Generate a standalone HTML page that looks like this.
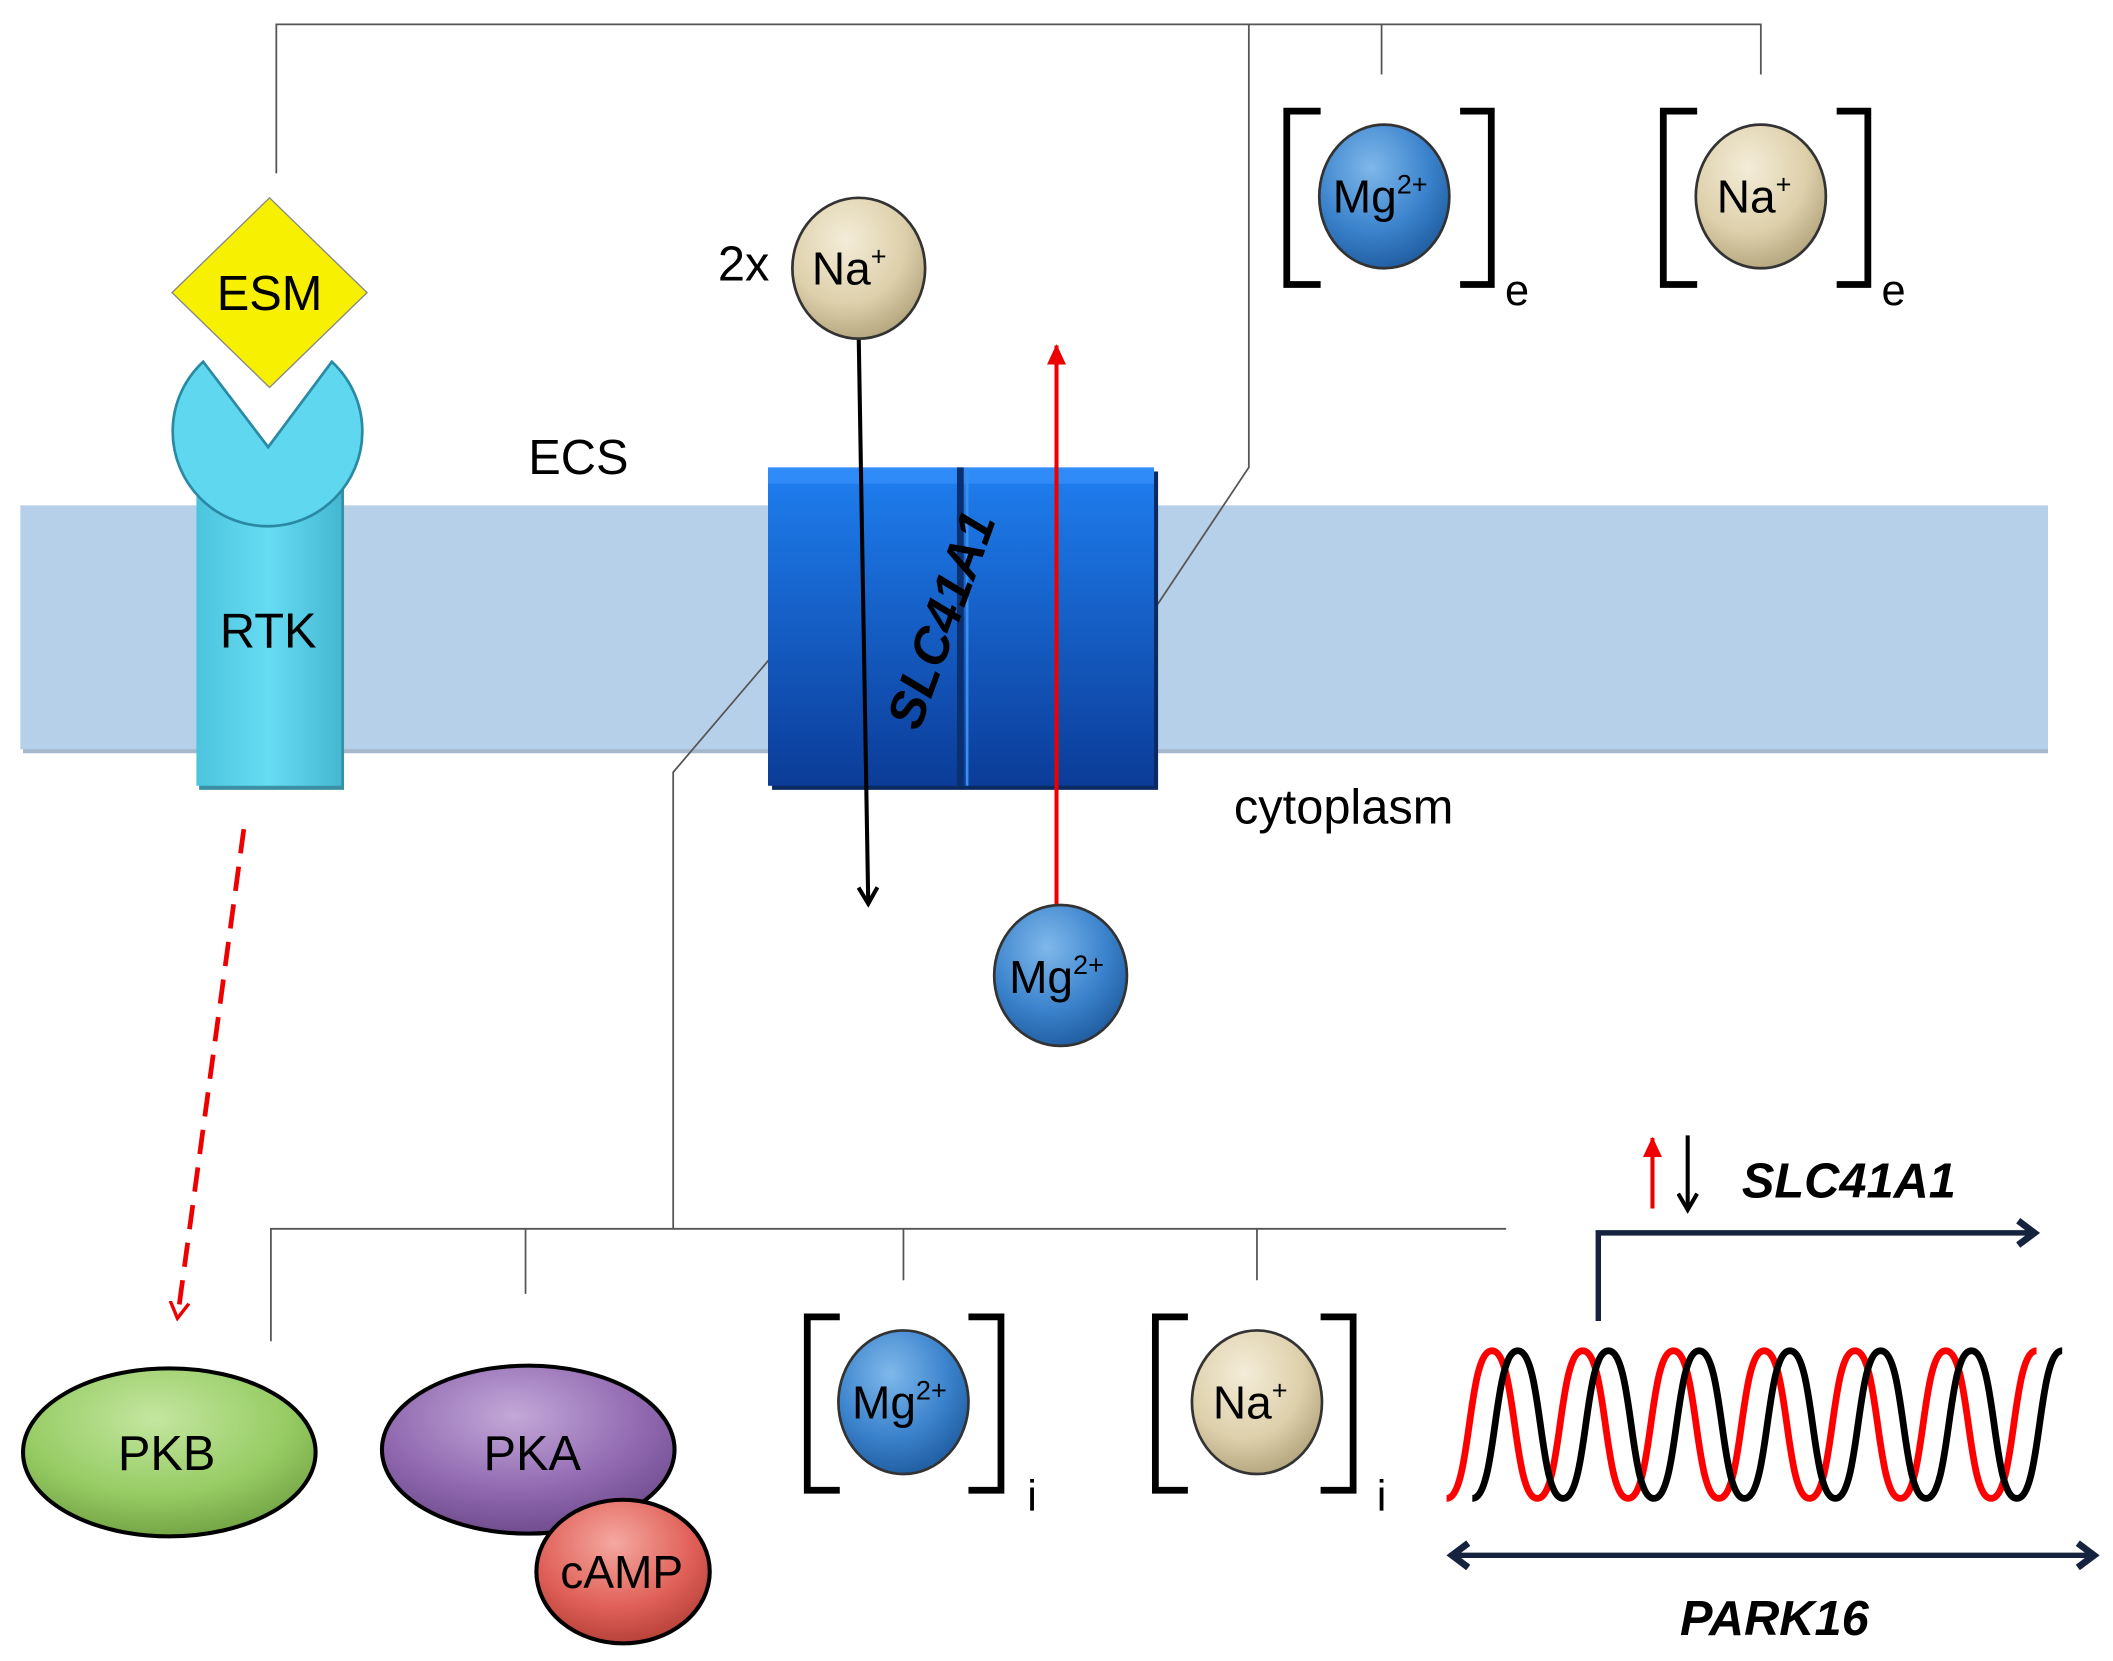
<!DOCTYPE html>
<html><head><meta charset="utf-8"><style>
html,body{margin:0;padding:0;background:#fff;}
svg{display:block;}
text{font-family:"Liberation Sans",Arial,sans-serif;}
</style></head><body>
<svg width="2113" height="1661" viewBox="0 0 1560 1226" preserveAspectRatio="none" xmlns="http://www.w3.org/2000/svg">
<defs>
<radialGradient id="gMg" cx="0.4" cy="0.3" r="0.75"><stop offset="0" stop-color="#7fb8ea"/><stop offset="0.6" stop-color="#3a82cc"/><stop offset="1" stop-color="#1e5a9c"/></radialGradient>
<radialGradient id="gNa" cx="0.4" cy="0.3" r="0.75"><stop offset="0" stop-color="#f4ecd8"/><stop offset="0.6" stop-color="#ddd0ab"/><stop offset="1" stop-color="#b0a27a"/></radialGradient>
<radialGradient id="gPKB" cx="0.45" cy="0.3" r="0.75"><stop offset="0" stop-color="#c4e6a0"/><stop offset="0.6" stop-color="#97cc64"/><stop offset="1" stop-color="#6e9e40"/></radialGradient>
<radialGradient id="gPKA" cx="0.45" cy="0.3" r="0.75"><stop offset="0" stop-color="#c3a8d8"/><stop offset="0.6" stop-color="#9068b0"/><stop offset="1" stop-color="#6a4888"/></radialGradient>
<radialGradient id="gcAMP" cx="0.45" cy="0.3" r="0.75"><stop offset="0" stop-color="#f4a8a0"/><stop offset="0.6" stop-color="#e06058"/><stop offset="1" stop-color="#b03c34"/></radialGradient>
<linearGradient id="gBox" x1="0" y1="0" x2="0" y2="1"><stop offset="0" stop-color="#1f7ff0"/><stop offset="1" stop-color="#0b3c98"/></linearGradient>
<linearGradient id="gRTK" x1="0" y1="0" x2="1" y2="0"><stop offset="0" stop-color="#4cc4de"/><stop offset="0.5" stop-color="#66dcf2"/><stop offset="1" stop-color="#44b8d2"/></linearGradient>
<marker id="aBlk" markerWidth="16" markerHeight="16" refX="12" refY="8" orient="auto" markerUnits="userSpaceOnUse"><path d="M1,1 L13,8 L1,15" fill="none" stroke="#000" stroke-width="3"/></marker>
<marker id="aGray" markerWidth="12" markerHeight="12" refX="10" refY="6" orient="auto" markerUnits="userSpaceOnUse"><path d="M0,1 L10,6 L0,11" fill="none" stroke="#555" stroke-width="1.2"/></marker>
<marker id="aRed" markerWidth="16" markerHeight="16" refX="14" refY="8" orient="auto" markerUnits="userSpaceOnUse"><path d="M0,1 L15,8 L0,15 Z" fill="#e00"/></marker>
<marker id="aRedO" markerWidth="14" markerHeight="16" refX="12" refY="8" orient="auto" markerUnits="userSpaceOnUse"><path d="M0,1 L12,8 L0,15" fill="none" stroke="#e00" stroke-width="2.5"/></marker>
<marker id="aNavy" markerWidth="18" markerHeight="22" refX="14" refY="11" orient="auto-start-reverse" markerUnits="userSpaceOnUse"><path d="M2,2 L14,11 L2,20" fill="none" stroke="#16233f" stroke-width="5"/></marker>
</defs>

<!-- membrane -->
<rect x="17" y="376" width="1495" height="180" fill="#a6b8cc"/>
<rect x="15" y="373" width="1497" height="180" fill="#b7d0ea"/>

<!-- top connectors -->
<g stroke="#555" stroke-width="1.3" fill="none">
<path d="M204,128 V18 H1300 V55"/>
<path d="M1020,18 V55"/>
<path d="M922,18 V345 L830,483" marker-end="url(#aGray)"/>
<path d="M200,990 V907 H1112"/>
<path d="M388,907 V955 M667,907 V945 M928,907 V945"/>
<path d="M497,907 V570 L595,455" marker-end="url(#aGray)"/>
</g>

<!-- RTK -->
<rect x="147" y="348" width="107" height="235" fill="#3a8fa4"/>
<rect x="145" y="345" width="107" height="235" fill="url(#gRTK)"/>
<path d="M150,267 A70,70 0 1 0 245,267 L198,330 Z" fill="#5fd8ef" stroke="#2a8aa4" stroke-width="2"/>
<text x="198" y="478" font-size="36" text-anchor="middle">RTK</text>
<!-- ESM -->
<path d="M199,146 L271,216 L199,286 L127,216 Z" fill="#f7f000" stroke="#888" stroke-width="1"/>
<text x="199" y="229" font-size="36" text-anchor="middle">ESM</text>

<text x="427" y="350" font-size="36" text-anchor="middle">ECS</text>
<text x="992" y="608" font-size="36" text-anchor="middle">cytoplasm</text>

<!-- SLC41A1 box -->
<rect x="570" y="348" width="285" height="235" fill="#0a2a60"/>
<rect x="567" y="345" width="285" height="235" fill="url(#gBox)"/>
<rect x="567" y="345" width="285" height="12" fill="#3a95ff" opacity="0.6"/>
<line x1="709" y1="345" x2="709" y2="580" stroke="#0a3070" stroke-width="5"/>
<line x1="714" y1="345" x2="714" y2="580" stroke="#3a8ef0" stroke-width="2"/>
<text x="0" y="0" font-size="38" font-weight="bold" font-style="italic" text-anchor="middle" transform="translate(707,462) rotate(-70)">SLC41A1</text>

<!-- transport arrows -->
<line x1="634" y1="250" x2="641" y2="666" stroke="#000" stroke-width="3" marker-end="url(#aBlk)"/>
<line x1="780" y1="668" x2="780" y2="255" stroke="#e00" stroke-width="3" marker-end="url(#aRed)"/>

<!-- Na top -->
<text x="549" y="207" font-size="36" text-anchor="middle">2x</text>
<ellipse cx="634" cy="198" rx="49" ry="52" fill="url(#gNa)" stroke="#333" stroke-width="2"/>
<text x="627" y="210" font-size="34" text-anchor="middle">Na<tspan font-size="20" dy="-14">+</tspan></text>

<!-- Mg lower -->
<ellipse cx="783" cy="720" rx="49" ry="52" fill="url(#gMg)" stroke="#333" stroke-width="2"/>
<text x="780" y="733" font-size="34" text-anchor="middle">Mg<tspan font-size="20" dy="-14">2+</tspan></text>

<!-- brackets -->
<g stroke="#000" stroke-width="5" fill="none">
<path d="M975,82 H950 V210 H975"/><path d="M1078,82 H1101 V210 H1078"/>
<path d="M1253,82 H1228 V210 H1253"/><path d="M1356,82 H1379 V210 H1356"/>
<path d="M620,972 H596 V1100 H620"/><path d="M715,972 H739 V1100 H715"/>
<path d="M877,972 H853 V1100 H877"/><path d="M975,972 H999 V1100 H975"/>
</g>
<ellipse cx="1022" cy="145" rx="48" ry="53" fill="url(#gMg)" stroke="#333" stroke-width="2"/>
<text x="1019" y="157" font-size="34" text-anchor="middle">Mg<tspan font-size="20" dy="-14">2+</tspan></text>
<text x="1120" y="225" font-size="32" text-anchor="middle">e</text>
<ellipse cx="1300" cy="145" rx="48" ry="53" fill="url(#gNa)" stroke="#333" stroke-width="2"/>
<text x="1295" y="157" font-size="34" text-anchor="middle">Na<tspan font-size="20" dy="-14">+</tspan></text>
<text x="1398" y="225" font-size="32" text-anchor="middle">e</text>

<ellipse cx="667" cy="1035" rx="48" ry="53" fill="url(#gMg)" stroke="#333" stroke-width="2"/>
<text x="664" y="1047" font-size="34" text-anchor="middle">Mg<tspan font-size="20" dy="-14">2+</tspan></text>
<text x="762" y="1115" font-size="32" text-anchor="middle">i</text>
<ellipse cx="928" cy="1035" rx="48" ry="53" fill="url(#gNa)" stroke="#333" stroke-width="2"/>
<text x="923" y="1047" font-size="34" text-anchor="middle">Na<tspan font-size="20" dy="-14">+</tspan></text>
<text x="1020" y="1115" font-size="32" text-anchor="middle">i</text>

<!-- red dashed -->
<line x1="180" y1="612" x2="131" y2="973" stroke="#e00" stroke-width="3.5" stroke-dasharray="18,10" marker-end="url(#aRedO)"/>

<!-- kinases -->
<ellipse cx="125" cy="1072" rx="108" ry="62" fill="url(#gPKB)" stroke="#000" stroke-width="3"/>
<text x="123" y="1085" font-size="36" text-anchor="middle">PKB</text>
<ellipse cx="390" cy="1070" rx="108" ry="62" fill="url(#gPKA)" stroke="#000" stroke-width="3"/>
<text x="393" y="1085" font-size="36" text-anchor="middle">PKA</text>
<ellipse cx="460" cy="1160" rx="64" ry="53" fill="url(#gcAMP)" stroke="#000" stroke-width="3"/>
<text x="459" y="1172" font-size="34" text-anchor="middle">cAMP</text>

<!-- gene -->
<line x1="1220" y1="892" x2="1220" y2="840" stroke="#e00" stroke-width="3" marker-end="url(#aRed)"/>
<line x1="1246" y1="838" x2="1246" y2="892" stroke="#000" stroke-width="3" marker-end="url(#aBlk)"/>
<text x="1365" y="884" font-size="36" font-weight="bold" font-style="italic" text-anchor="middle">SLC41A1</text>
<path d="M1180,975 V910 H1502" fill="none" stroke="#16233f" stroke-width="4" marker-end="url(#aNavy)"/>
<path id="wr" fill="none" stroke="#f00" stroke-width="5"/>
<path id="wb" fill="none" stroke="#000" stroke-width="5"/>
<path d="M1072,1148 H1546" fill="none" stroke="#16233f" stroke-width="4" marker-end="url(#aNavy)" marker-start="url(#aNavy)" />
<text x="1310" y="1207" font-size="36" font-weight="bold" font-style="italic" text-anchor="middle">PARK16</text>
</svg>
<script>
function wave(x0,x1,top,bot,per){var h=per/2,d="M"+x0+","+bot,x=x0,up=true;
var k=h*0.55;d+=" C"+(x0+k)+","+bot+" "+(x0+h-k)+","+top+" "+(x0+h)+","+top;x=x0+h;up=false;
while(x+h<=x1+1){x+=h;d+=" S"+(x-k)+","+(up?top:bot)+" "+x+","+(up?top:bot);up=!up;}
return d;}
document.getElementById('wr').setAttribute('d',wave(1068,1532,997,1106,67));
document.getElementById('wb').setAttribute('d',wave(1087,1548,997,1106,67));
</script>
</body></html>
